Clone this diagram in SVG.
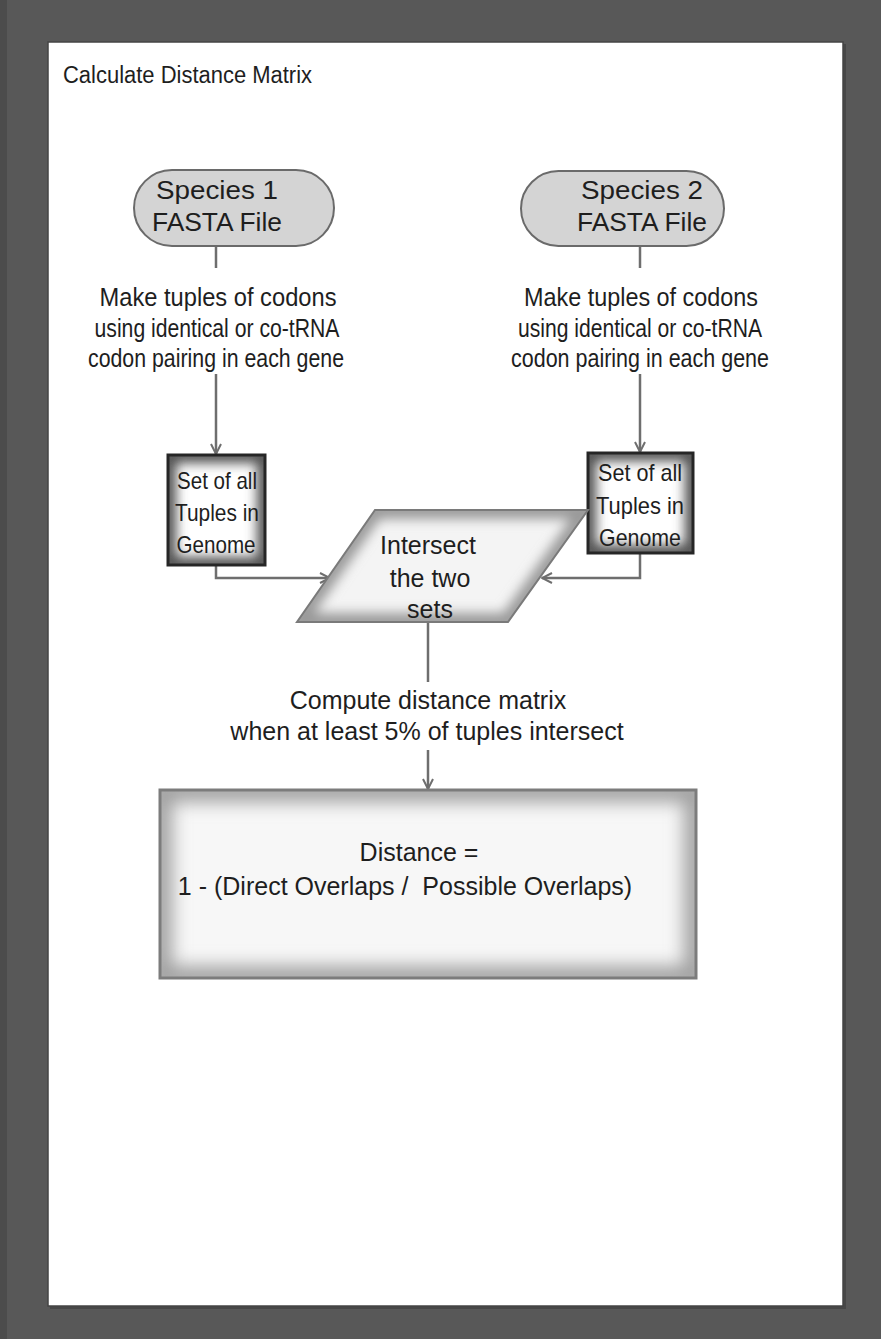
<svg xmlns="http://www.w3.org/2000/svg" width="881" height="1339" viewBox="0 0 881 1339">
  <defs>
    <style>
      .lbl { font-family: "Liberation Sans", Arial, sans-serif; font-size: 25px; fill: #1e1e1e; text-anchor: middle; }
      .box { font-size: 24px; }
      .title { font-family: "Liberation Sans", Arial, sans-serif; font-size: 23px; fill: #1e1e1e; }
      .wire { fill: none; stroke: #6e6e6e; stroke-width: 2.5; }
      .pill { fill: #d4d4d4; stroke: #6a6a6a; stroke-width: 2; }
    </style>
    <marker id="arrow" viewBox="0 0 12 12" refX="11" refY="6" markerWidth="12" markerHeight="12" markerUnits="userSpaceOnUse" orient="auto">
      <path d="M1,1 L11,6 L1,11" fill="none" stroke="#6e6e6e" stroke-width="2"/>
    </marker>
    <filter id="soft" x="-20%" y="-20%" width="140%" height="140%">
      <feGaussianBlur stdDeviation="6"/>
    </filter>
    <filter id="softer" x="-20%" y="-20%" width="140%" height="140%">
      <feGaussianBlur stdDeviation="9"/>
    </filter>
    <clipPath id="clipSet1"><rect x="168" y="455" width="97" height="110"/></clipPath>
    <clipPath id="clipSet2"><rect x="588" y="453" width="105" height="100"/></clipPath>
    <clipPath id="clipPara"><polygon points="375,510 588,510 508,622 297,622"/></clipPath>
    <clipPath id="clipDist"><rect x="160" y="790" width="536" height="188"/></clipPath>
  </defs>

  <!-- page frame -->
  <rect x="0" y="0" width="881" height="1339" fill="#585858"/>
  <rect x="0" y="0" width="7" height="1339" fill="#4c4c4c"/>
  <rect x="50" y="44" width="796" height="1265" fill="#3c3c3c" opacity="0.6"/>
  <rect x="48" y="42" width="795" height="1264" fill="#ffffff" stroke="#444444" stroke-width="1.5"/>
  <text class="title" x="63" y="83" textLength="249" lengthAdjust="spacingAndGlyphs">Calculate Distance Matrix</text>

  <!-- connectors -->
  <g id="connectors">
    <line class="wire" x1="216" y1="246" x2="216" y2="268"/>
    <line class="wire" x1="640" y1="246" x2="640" y2="268"/>
    <line class="wire" x1="216" y1="374" x2="216" y2="454" marker-end="url(#arrow)"/>
    <line class="wire" x1="640" y1="374" x2="640" y2="452" marker-end="url(#arrow)"/>
    <polyline class="wire" points="216,565 216,578 330,578" marker-end="url(#arrow)"/>
    <polyline class="wire" points="640,553 640,578 542,578" marker-end="url(#arrow)"/>
    <line class="wire" x1="428" y1="622" x2="428" y2="682"/>
    <line class="wire" x1="428" y1="750" x2="428" y2="789" marker-end="url(#arrow)"/>
  </g>

  <!-- Species 1 source file -->
  <g id="species1">
    <rect class="pill" x="134" y="170" width="200" height="76" rx="38"/>
    <text class="lbl" x="217" y="199" textLength="122" lengthAdjust="spacingAndGlyphs">Species 1</text>
    <text class="lbl" x="217" y="231" textLength="130" lengthAdjust="spacingAndGlyphs">FASTA File</text>
  </g>

  <!-- Species 2 source file -->
  <g id="species2">
    <rect class="pill" x="521" y="171" width="203" height="75" rx="37.5"/>
    <text class="lbl" x="642" y="199" textLength="122" lengthAdjust="spacingAndGlyphs">Species 2</text>
    <text class="lbl" x="642" y="231" textLength="130" lengthAdjust="spacingAndGlyphs">FASTA File</text>
  </g>

  <!-- tuple construction notes -->
  <g id="makeTuples1">
    <text class="lbl" x="218" y="306" textLength="237" lengthAdjust="spacingAndGlyphs">Make tuples of codons</text>
    <text class="lbl" x="217" y="337" textLength="245" lengthAdjust="spacingAndGlyphs">using identical or co-tRNA</text>
    <text class="lbl" x="216" y="367" textLength="256" lengthAdjust="spacingAndGlyphs">codon pairing in each gene</text>
  </g>
  <g id="makeTuples2">
    <text class="lbl" x="641" y="306" textLength="234" lengthAdjust="spacingAndGlyphs">Make tuples of codons</text>
    <text class="lbl" x="640" y="337" textLength="244" lengthAdjust="spacingAndGlyphs">using identical or co-tRNA</text>
    <text class="lbl" x="640" y="367" textLength="258" lengthAdjust="spacingAndGlyphs">codon pairing in each gene</text>
  </g>

  <!-- tuple sets -->
  <g id="set1">
    <rect x="168" y="455" width="97" height="110" fill="#ffffff"/>
    <g clip-path="url(#clipSet1)">
      <rect x="168" y="455" width="97" height="110" fill="none" stroke="#505050" stroke-width="16" filter="url(#soft)"/>
    </g>
    <rect x="168" y="455" width="97" height="110" fill="none" stroke="#262626" stroke-width="3"/>
    <text class="lbl box" x="217" y="489" textLength="80" lengthAdjust="spacingAndGlyphs">Set of all</text>
    <text class="lbl box" x="217" y="521" textLength="84" lengthAdjust="spacingAndGlyphs">Tuples in</text>
    <text class="lbl box" x="216" y="553" textLength="79" lengthAdjust="spacingAndGlyphs">Genome</text>
  </g>
  <g id="set2">
    <rect x="588" y="453" width="105" height="100" fill="#ffffff"/>
    <g clip-path="url(#clipSet2)">
      <rect x="588" y="453" width="105" height="100" fill="none" stroke="#505050" stroke-width="16" filter="url(#soft)"/>
    </g>
    <rect x="588" y="453" width="105" height="100" fill="none" stroke="#262626" stroke-width="3"/>
    <text class="lbl box" x="640" y="481" textLength="84" lengthAdjust="spacingAndGlyphs">Set of all</text>
    <text class="lbl box" x="640" y="514" textLength="88" lengthAdjust="spacingAndGlyphs">Tuples in</text>
    <text class="lbl box" x="640" y="546" textLength="82" lengthAdjust="spacingAndGlyphs">Genome</text>
  </g>

  <!-- intersection step -->
  <g id="intersect">
    <polygon points="375,510 588,510 508,622 297,622" fill="#f4f4f4"/>
    <g clip-path="url(#clipPara)">
      <polygon points="375,510 588,510 508,622 297,622" fill="none" stroke="#9a9a9a" stroke-width="18" filter="url(#soft)"/>
    </g>
    <polygon points="375,510 588,510 508,622 297,622" fill="none" stroke="#7a7a7a" stroke-width="2"/>
    <text class="lbl" x="428" y="554">Intersect</text>
    <text class="lbl" x="430" y="587">the two</text>
    <text class="lbl" x="430" y="618">sets</text>
  </g>

  <!-- distance computation note -->
  <g id="computeNote">
    <text class="lbl" x="428" y="709">Compute distance matrix</text>
    <text class="lbl" x="427" y="740">when at least 5% of tuples intersect</text>
  </g>

  <!-- distance formula -->
  <g id="distance">
    <rect x="160" y="790" width="536" height="188" fill="#f7f7f7"/>
    <g clip-path="url(#clipDist)">
      <rect x="160" y="790" width="536" height="188" fill="none" stroke="#a0a0a0" stroke-width="24" filter="url(#softer)"/>
    </g>
    <rect x="160" y="790" width="536" height="188" fill="none" stroke="#7c7c7c" stroke-width="3"/>
    <text class="lbl" x="419" y="861">Distance =</text>
    <text class="lbl" x="405" y="895" xml:space="preserve">1 - (Direct Overlaps /  Possible Overlaps)</text>
  </g>
</svg>
